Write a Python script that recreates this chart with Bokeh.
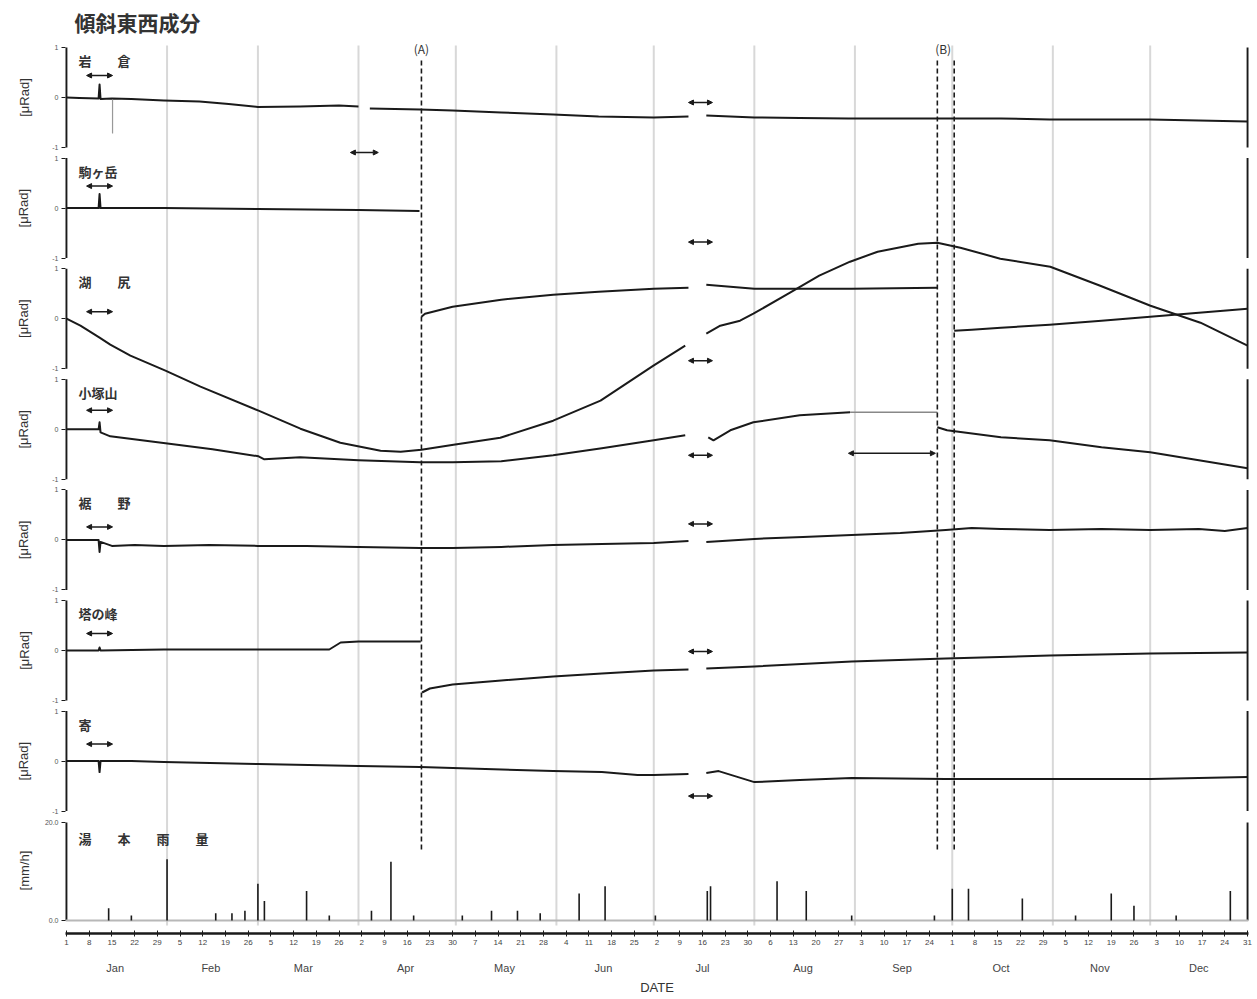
import datetime
import numpy as np
from bokeh.plotting import figure
from bokeh.models import (Range1d, LinearAxis, FixedTicker, Label, Arrow,
                          NormalHead, ColumnDataSource)
from bokeh.embed import file_html
from bokeh.resources import INLINE

nan = float("nan")

# ---------------- data ----------------
TITLE = "傾斜東西成分"
STATIONS = ["岩　　倉", "駒ヶ岳", "湖　　尻", "小塚山", "裾　　野", "塔の峰", "寄"]
RAIN_LABEL = "湯　　本　　雨　　量"
Y_UNIT_LABEL = "[μRad]"
RAIN_UNIT_LABEL = "[mm/h]"
MONTHS = ["Jan", "Feb", "Mar", "Apr", "May", "Jun", "Jul", "Aug", "Sep", "Oct", "Nov", "Dec"]
MONTH_START = [1, 32, 60, 91, 121, 152, 182, 213, 244, 274, 305, 335]
MONTH_MID = [16, 45.5, 74, 105.5, 136, 166.5, 197, 228, 258.5, 289, 319.5, 350]
WEEK_TICKS = list(range(1, 366, 7))
EVENT_A = [110.4]
EVENT_B = [269.4, 274.6]

# 岩倉
iwakura_d = [1, 5, 10.9, 11.2, 11.5, 15, 21, 31, 42, 51, 60, 73, 85, 91, nan, 94.5, 110, 120, 135,
             151, 165, 182, 192.7, nan, 198.2, 213, 227, 242, 257, 272, 289, 304, 320, 335, 350, 365]
iwakura_v = [0, -0.01, -0.02, 0.26, -0.03, -0.02, -0.03, -0.06, -0.08, -0.13, -0.19, -0.18, -0.16,
             -0.18, nan, -0.22, -0.24, -0.26, -0.3, -0.34, -0.38, -0.4, -0.38, nan, -0.36, -0.4,
             -0.41, -0.42, -0.42, -0.42, -0.42, -0.44, -0.44, -0.44, -0.46, -0.48]
# 駒ヶ岳
koma_d = [1, 10.9, 11.2, 11.5, 31, 60, 91, 109.8]
koma_v = [0, 0, 0.28, 0, 0, -0.02, -0.04, -0.06]
# 湖尻 (after A / after B)
kojiri_d = [110.4, 111.5, 120, 135, 151, 165, 182, 192.7, nan, 198.2, 213, 243, 269.4, nan,
            274.6, 280, 289, 304, 320, 335, 350, 365]
kojiri_v = [0.04, 0.1, 0.24, 0.38, 0.48, 0.54, 0.6, 0.62, nan, 0.68, 0.6, 0.6, 0.62, nan,
            -0.24, -0.22, -0.18, -0.12, -0.04, 0.04, 0.12, 0.2]
# 湖尻 long-period curve
kojiri2_d = [1, 5.3, 11.2, 14.5, 20.7, 31.5, 42.3, 60.2, 73.1, 85.4, 97.8, 104, 110.4, 120.3, 134.7,
             151, 165.6, 181.9, 191.7, nan, 198.2, 202.5, 208.6, 212.7, 224, 233, 242.5, 251,
             263.5, 269.4, 276.5, 288.8, 304.2, 319.6, 335.1, 350.5, 365]
kojiri2_v = [0, -0.14, -0.38, -0.52, -0.74, -1.04, -1.36, -1.84, -2.2, -2.48, -2.64, -2.66, -2.62,
             -2.52, -2.38, -2.04, -1.64, -0.94, -0.54, nan, -0.3, -0.14, -0.04, 0.1, 0.52, 0.86,
             1.14, 1.34, 1.5, 1.52, 1.42, 1.2, 1.04, 0.66, 0.26, -0.08, -0.54]
# 小塚山
kozuka_d = [1, 10.9, 11.2, 11.5, 14.5, 31.5, 46, 60.2, 62, 73, 91, 110, 120, 135, 151, 166, 182,
            191.7, nan, 198.8, 200.4, 205.6, 212.7, 227, 242.5, nan, 269.4, 272.4, 289, 304, 320,
            335, 350, 365]
kozuka_v = [0, 0, 0.14, -0.06, -0.14, -0.28, -0.4, -0.54, -0.6, -0.56, -0.62, -0.66, -0.66, -0.64,
            -0.52, -0.38, -0.22, -0.12, nan, -0.16, -0.22, -0.02, 0.14, 0.28, 0.34, nan, 0.04,
            -0.02, -0.16, -0.22, -0.36, -0.46, -0.62, -0.78]
kozuka_fill_d = [242.5, 269.4]
kozuka_fill_v = [0.34, 0.34]
# 裾野
susono_d = [1, 10.9, 11.2, 11.5, 15, 22, 31, 45, 60, 75, 91, 110, 120, 135, 151, 166, 182, 192.7,
            nan, 198.2, 213, 228, 243, 258, 272, 280, 289, 304, 320, 335, 350, 358, 365]
susono_v = [0, 0, -0.24, -0.04, -0.12, -0.1, -0.12, -0.1, -0.12, -0.12, -0.14, -0.16, -0.16,
            -0.14, -0.1, -0.08, -0.06, -0.02, nan, -0.04, 0.02, 0.06, 0.1, 0.14, 0.2, 0.24, 0.22,
            0.2, 0.22, 0.2, 0.22, 0.18, 0.24]
# 塔の峰
tonomine_d = [1, 10.9, 11.2, 11.5, 31, 60, 82, 85.5, 91, 110.2, nan, 110.6, 113, 120, 135, 151,
              166, 182, 192.7, nan, 198.2, 213, 243, 272, 304, 335, 365]
tonomine_v = [0, 0, 0.06, 0, 0.02, 0.02, 0.02, 0.16, 0.18, 0.18, nan, -0.84, -0.76, -0.68, -0.6,
              -0.52, -0.46, -0.4, -0.38, nan, -0.36, -0.32, -0.22, -0.16, -0.1, -0.06, -0.04]
# 寄
yadoriki_d = [1, 10.9, 11.2, 11.5, 21, 31, 60, 91, 110, 151, 166, 177, 182, 192.7, nan, 198.2,
              202, 209, 213, 227, 243, 272, 304, 335, 365]
yadoriki_v = [0, 0, -0.22, 0, 0, -0.02, -0.06, -0.1, -0.12, -0.2, -0.22, -0.28, -0.28, -0.26, nan,
              -0.24, -0.2, -0.34, -0.42, -0.38, -0.34, -0.36, -0.36, -0.36, -0.32]

SERIES_D = [iwakura_d, koma_d, kojiri_d, kozuka_d, susono_d, tonomine_d, yadoriki_d]
SERIES_V = [iwakura_v, koma_v, kojiri_v, kozuka_v, susono_v, tonomine_v, yadoriki_v]

# thin gray spike in 岩倉
iwakura_spike_d = [15.2]
iwakura_spike_v0 = [-0.04]
iwakura_spike_v1 = [-0.72]

# calibration arrows (day start, day end, panel, value)
arrow_d0 = [7.2, 7.2, 7.2, 7.2, 7.2, 7.2, 7.2, 192.7, 192.7, 192.7, 192.7, 192.7, 192.7, 192.7, 88.5, 242.0]
arrow_d1 = [15.2, 15.2, 15.2, 15.2, 15.2, 15.2, 15.2, 200.1, 200.1, 200.1, 200.1, 200.1, 200.1, 200.1, 97.1, 268.8]
arrow_panel = [0, 1, 2, 3, 4, 5, 6, 0, 1, 2, 3, 4, 5, 6, 0, 3]
arrow_v = [0.44, 0.44, 0.14, 0.38, 0.26, 0.34, 0.34, -0.1, -0.68, -0.84, -0.52, 0.32, -0.02, -0.7, -1.1, -0.48]

# rainfall at 湯本 (mm/h)
rain_d = [14, 21, 32, 47, 52, 56, 60, 62, 75, 82, 95, 101, 108, 123, 132, 140, 147, 159, 167,
          182.5, 198.5, 199.5, 220, 229, 243, 268.5, 274, 279, 295.6, 312, 323, 330, 343, 359.7]
rain_v = [2.5, 1.0, 12.5, 1.5, 1.5, 2.0, 7.5, 4.0, 6.0, 1.0, 2.0, 12.0, 1.0, 1.0, 2.0, 2.0, 1.5,
          5.5, 7.0, 1.0, 6.0, 7.0, 8.0, 6.0, 1.0, 1.0, 6.5, 6.5, 4.5, 1.0, 5.5, 3.0, 1.0, 6.0]
RAIN_TOP = 20.0

# ---------------- layout ----------------
PANEL_STEP = 2.212
RAIN_ZERO = -16.46
RAIN_SPAN = 1.96
RAIN_SCALE = RAIN_SPAN / RAIN_TOP
Y_TOP, Y_BOT = 1.94, -16.72
X0, X1 = 0.7, 365.3
JP = "Noto Sans CJK JP"
INK = "#1a1a1a"

offs = [-PANEL_STEP * i for i in range(7)]

p = figure(width=1257, height=999, x_range=Range1d(X0, X1), y_range=Range1d(Y_BOT, Y_TOP),
           x_axis_type=None, y_axis_type=None, output_backend="svg", toolbar_location=None,
           min_border_left=65, min_border_right=9, min_border_top=0, min_border_bottom=66)
p.outline_line_color = None
p.background_fill_color = "white"
p.border_fill_color = "white"

# month grid lines
grid_x = MONTH_START[1:]
p.segment(x0=grid_x, x1=grid_x, y0=[1.04] * len(grid_x), y1=[-16.56] * len(grid_x),
          line_color="#d8d8d8", line_width=2)

# spines per panel
sp_top = [o + 1 for o in offs] + [RAIN_ZERO + RAIN_SPAN]
sp_bot = [o - 1 for o in offs] + [RAIN_ZERO]
n = len(sp_top)
p.segment(x0=[X0 + 0.2] * n, x1=[X0 + 0.2] * n, y0=sp_top, y1=sp_bot, line_color=INK, line_width=2.5)
p.segment(x0=[X1 - 0.2] * n, x1=[X1 - 0.2] * n, y0=sp_top, y1=sp_bot, line_color=INK, line_width=2.5)

# rain baseline and bars
p.line(x=[X0, X1], y=[RAIN_ZERO, RAIN_ZERO], line_color="#b8b8b8", line_width=2)
p.segment(x0=rain_d, x1=rain_d, y0=[RAIN_ZERO] * len(rain_d),
          y1=[RAIN_ZERO + v * RAIN_SCALE for v in rain_v], line_color=INK, line_width=1.6)

# tilt series
for i, (d, v) in enumerate(zip(SERIES_D, SERIES_V)):
    y = np.array(v, dtype=float) + offs[i]
    p.line(x=np.array(d, dtype=float), y=y, line_color=INK, line_width=2, line_join="round")
p.line(x=np.array(kojiri2_d, dtype=float), y=np.array(kojiri2_v, dtype=float) + offs[2],
       line_color=INK, line_width=2, line_join="round")
p.line(x=kozuka_fill_d, y=[v + offs[3] for v in kozuka_fill_v], line_color="#888888", line_width=1.5)
p.segment(x0=iwakura_spike_d, x1=iwakura_spike_d, y0=[v + offs[0] for v in iwakura_spike_v0],
          y1=[v + offs[0] for v in iwakura_spike_v1], line_color="#999999", line_width=1.2)

# event lines (A) and (B)
ev = EVENT_A + EVENT_B
p.segment(x0=ev, x1=ev, y0=[0.74] * len(ev), y1=[-15.06] * len(ev), line_color=INK,
          line_width=1.6, line_dash="5 3")
p.add_layout(Label(x=EVENT_A[0], y=0.98, text="(A)", text_font=JP, text_font_size="12px",
                   text_color="#333333", text_align="center", text_baseline="middle"))
p.add_layout(Label(x=sum(EVENT_B) / 2 - 0.8, y=0.98, text="(B)", text_font=JP, text_font_size="12px",
                   text_color="#333333", text_align="center", text_baseline="middle"))

# arrows
asrc = ColumnDataSource(dict(x0=arrow_d0, x1=arrow_d1,
                             y=[v + offs[k] for v, k in zip(arrow_v, arrow_panel)]))
p.add_layout(Arrow(start=NormalHead(size=5, fill_color=INK, line_color=INK),
                   end=NormalHead(size=5, fill_color=INK, line_color=INK),
                   x_start="x0", x_end="x1", y_start="y", y_end="y", source=asrc,
                   line_color=INK, line_width=1.5))

# axes
yt, ov = [], {}
for o in offs:
    for val, lab in ((1, "1"), (0, "0"), (-1, "-1")):
        t = round(o + val, 4)
        yt.append(t)
        ov[t] = lab
for val, lab in ((0, "0.0"), (RAIN_SPAN, "%.1f" % RAIN_TOP)):
    t = round(RAIN_ZERO + val, 4)
    yt.append(t)
    ov[t] = lab
yax = LinearAxis(ticker=FixedTicker(ticks=yt), major_label_overrides=ov, axis_line_color=None,
                 major_tick_out=4, major_tick_in=0, major_tick_line_color=INK,
                 major_label_text_font_size="7px", major_label_text_color="#555555",
                 major_label_standoff=3, minor_tick_line_color=None)
p.add_layout(yax, "left")

# unit labels as an outer left axis
ut, uov = [], {}
for o in offs:
    t = round(o, 4)
    ut.append(t)
    uov[t] = Y_UNIT_LABEL
t = round(RAIN_ZERO + 1.0, 4)
ut.append(t)
uov[t] = RAIN_UNIT_LABEL
uax = LinearAxis(ticker=FixedTicker(ticks=ut), major_label_overrides=uov, axis_line_color=None,
                 major_tick_line_color=None, major_tick_out=0, major_tick_in=0,
                 minor_tick_line_color=None, major_label_orientation="vertical",
                 major_label_text_font_size="13px", major_label_text_color="#333333",
                 major_label_standoff=10)
p.add_layout(uax, "left")

xlab = {}
for d in WEEK_TICKS:
    dt = datetime.date(2001, 1, 1) + datetime.timedelta(days=d - 1)
    xlab[d] = str(dt.day)
xax = LinearAxis(ticker=FixedTicker(ticks=WEEK_TICKS), major_label_overrides=xlab,
                 axis_line_width=2.5, axis_line_color=INK, major_tick_in=3, major_tick_out=3,
                 major_tick_line_color=INK, minor_tick_line_color=None,
                 major_label_text_font_size="8px", major_label_text_color="#444444",
                 major_label_standoff=3)
p.add_layout(xax, "below")
mlab = {m: name for m, name in zip(MONTH_MID, MONTHS)}
max_ = LinearAxis(ticker=FixedTicker(ticks=MONTH_MID), major_label_overrides=mlab,
                  axis_line_color=None, major_tick_line_color=None, minor_tick_line_color=None,
                  major_label_text_font_size="11px", major_label_text_color="#444444",
                  major_label_standoff=8, axis_label="DATE", axis_label_text_font_size="13px",
                  axis_label_text_font_style="normal", axis_label_text_color="#333333",
                  axis_label_standoff=3)
p.add_layout(max_, "below")

# texts
p.add_layout(Label(x=3.5, y=1.52, text=TITLE, text_font=JP, text_font_size="21px",
                   text_font_style="bold", text_color="#333333", text_baseline="middle"))
for i, name in enumerate(STATIONS):
    p.add_layout(Label(x=4.7, y=offs[i] + 0.74, text=name, text_font=JP, text_font_size="13px",
                       text_font_style="bold", text_color="#333333", text_baseline="middle"))
p.add_layout(Label(x=4.7, y=RAIN_ZERO + 1.64, text=RAIN_LABEL, text_font=JP, text_font_size="13px",
                   text_font_style="bold", text_color="#333333", text_baseline="middle"))

open("out.html", "w").write(file_html(p, INLINE))
